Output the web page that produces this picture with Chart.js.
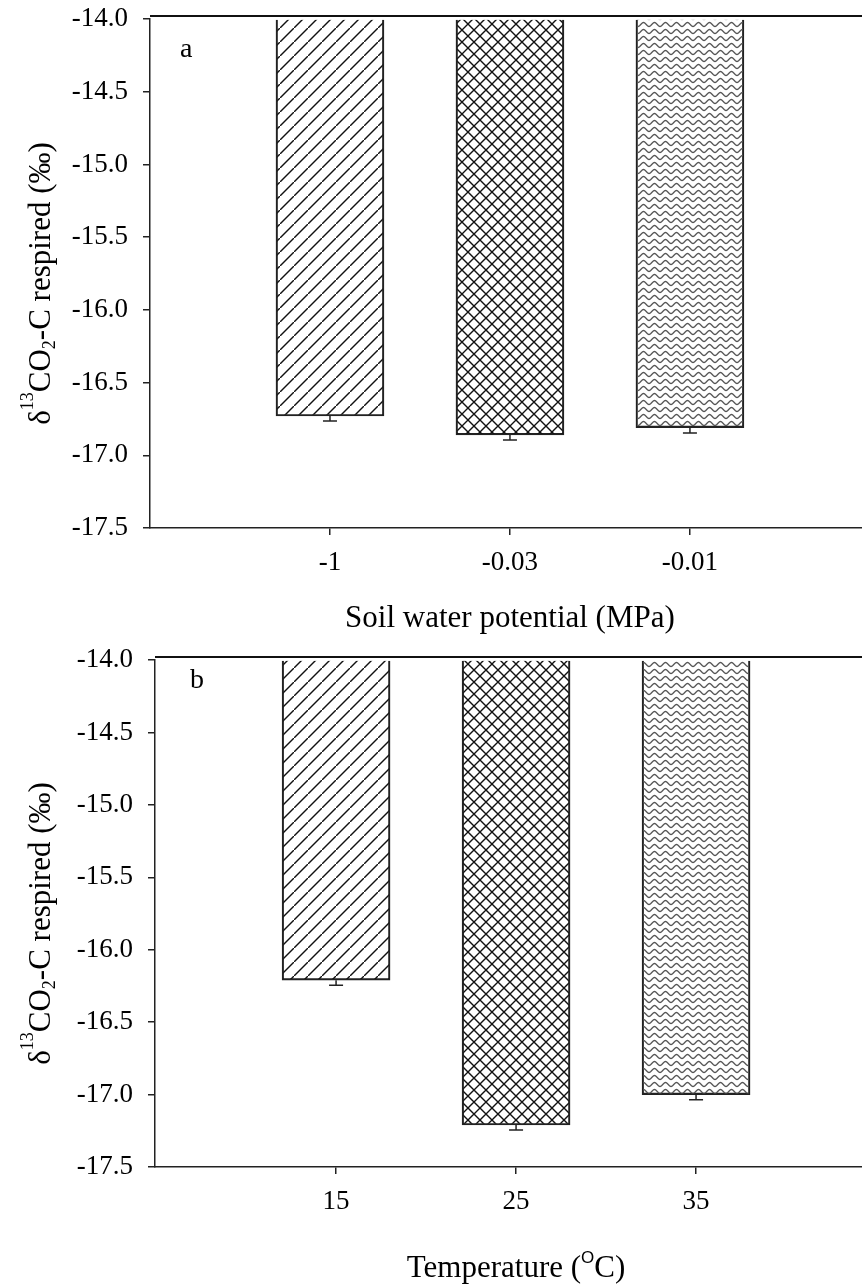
<!DOCTYPE html>
<html>
<head>
<meta charset="utf-8">
<script src="https://cdn.jsdelivr.net/npm/chart.js@4.4.1/dist/chart.umd.min.js"></script>
<style>
html, body { margin: 0; padding: 0; background: #fff; overflow: hidden; }
canvas { display: block; }
</style>
</head>
<body>
<canvas id="chartA" width="862" height="640"></canvas>
<canvas id="chartB" width="862" height="647"></canvas>
<script>
// panel a: soil water potential
const waterLabels = ['-1', '-0.03', '-0.01'];
const waterMeans = [-16.73, -16.86, -16.81];
const waterErrors = [0.035, 0.035, 0.037];

// panel b: temperature
const tempLabels = ['15', '25', '35'];
const tempMeans = [-16.21, -17.21, -17.0];
const tempErrors = [0.035, 0.035, 0.035];

// shared y axis
const yMin = -17.5;
const yMax = -14.0;
const yStep = 0.5;

const SERIF = "'Liberation Serif', 'Times New Roman', serif";
Chart.defaults.font.family = SERIF;
Chart.defaults.color = '#000';

// fill patterns for the three bars
function hatchPattern() {
    const c = document.createElement('canvas');
    c.width = 14; c.height = 14;
    const g = c.getContext('2d');
    g.strokeStyle = '#111';
    g.lineWidth = 1.4;
    g.beginPath();
    g.moveTo(-2, 16); g.lineTo(16, -2);
    g.stroke();
    return g.createPattern(c, 'repeat');
}

function crossPattern() {
    const c = document.createElement('canvas');
    c.width = 12; c.height = 12;
    const g = c.getContext('2d');
    g.strokeStyle = '#111';
    g.lineWidth = 1.4;
    g.beginPath();
    g.moveTo(-2, 14); g.lineTo(14, -2);
    g.moveTo(-2, -2); g.lineTo(14, 14);
    g.stroke();
    return g.createPattern(c, 'repeat');
}

function wavePattern() {
    const c = document.createElement('canvas');
    c.width = 11; c.height = 7;
    const g = c.getContext('2d');
    g.strokeStyle = '#555';
    g.lineWidth = 1.3;
    g.beginPath();
    for (let x = -1; x <= 12; x += 0.5) {
        const y = 3.5 + 2 * Math.cos((x / 11) * Math.PI * 2);
        if (x === -1) g.moveTo(x, y); else g.lineTo(x, y);
    }
    g.stroke();
    return g.createPattern(c, 'repeat');
}

const fills = [hatchPattern(), crossPattern(), wavePattern()];

// y title with super/subscripts, drawn rotated
function drawYTitle(ctx, x, cy) {
    const parts = [
        { t: '\u03B4', size: 31, dy: 0 },
        { t: '13', size: 18, dy: -17 },
        { t: 'CO', size: 31, dy: 0 },
        { t: '2', size: 18, dy: 5 },
        { t: '-C respired (\u2030)', size: 31, dy: 0 }
    ];
    ctx.save();
    let total = 0;
    parts.forEach(p => {
        ctx.font = p.size + 'px ' + SERIF;
        p.w = ctx.measureText(p.t).width;
        total += p.w;
    });
    ctx.translate(x, cy);
    ctx.rotate(-Math.PI / 2);
    ctx.fillStyle = '#000';
    ctx.textBaseline = 'alphabetic';
    ctx.textAlign = 'left';
    let pos = -total / 2;
    parts.forEach(p => {
        ctx.font = p.size + 'px ' + SERIF;
        ctx.fillText(p.t, pos, p.dy);
        pos += p.w;
    });
    ctx.restore();
}

function drawParts(ctx, parts, cx, baseline) {
    let total = 0;
    parts.forEach(p => {
        ctx.font = p.font;
        p.w = ctx.measureText(p.t).width;
        total += p.w;
    });
    ctx.save();
    ctx.fillStyle = '#000';
    ctx.textBaseline = 'alphabetic';
    ctx.textAlign = 'left';
    let pos = cx - total / 2;
    parts.forEach(p => {
        ctx.font = p.font;
        ctx.fillText(p.t, pos, baseline + p.dy);
        pos += p.w;
    });
    ctx.restore();
}

function makeChart(id, labels, means, errors, cfg) {
    const points = means.map((v, i) => ({ x: i + 1, y: v }));

    const extras = {
        id: 'extras',
        afterDatasetsDraw(chart) {
            // error bars, lower half only
            const ctx = chart.ctx;
            const xs = chart.scales.x, ys = chart.scales.y;
            ctx.save();
            ctx.strokeStyle = '#222';
            ctx.lineWidth = 1.5;
            means.forEach((v, i) => {
                const px = xs.getPixelForValue(i + 1);
                const y0 = ys.getPixelForValue(v);
                const y1 = ys.getPixelForValue(v - errors[i]);
                ctx.beginPath();
                ctx.moveTo(px, y0); ctx.lineTo(px, y1);
                ctx.moveTo(px - 7, y1); ctx.lineTo(px + 7, y1);
                ctx.stroke();
            });
            ctx.restore();
        },
        afterDraw(chart) {
            const ctx = chart.ctx;
            const a = chart.chartArea;
            // frame line along the top
            ctx.save();
            ctx.strokeStyle = '#111';
            ctx.lineWidth = 2;
            ctx.beginPath();
            ctx.moveTo(a.left, a.top - 3);
            ctx.lineTo(chart.width, a.top - 3);
            ctx.stroke();
            // panel letter
            ctx.fillStyle = '#000';
            ctx.font = '28px ' + SERIF;
            ctx.textBaseline = 'alphabetic';
            ctx.fillText(cfg.letter, a.left + cfg.letterDx, a.top + cfg.letterDy);
            ctx.restore();
            drawYTitle(ctx, 50, (a.top + a.bottom) / 2 + 10);
            drawParts(ctx, cfg.xTitle, chart.scales.x.getPixelForValue(2), cfg.xTitleY);
        }
    };

    return new Chart(document.getElementById(id), {
        type: 'bar',
        data: {
            datasets: [{
                data: points,
                base: yMax,
                backgroundColor: fills,
                borderColor: '#222',
                borderWidth: { top: 0, left: 1.5, right: 1.5, bottom: 1.5 },
                borderSkipped: false,
                barThickness: 108
            }]
        },
        options: {
            responsive: false,
            animation: false,
            devicePixelRatio: 1,
            layout: { padding: { top: cfg.top, left: 0, right: 0, bottom: 0 } },
            plugins: { legend: { display: false }, tooltip: { enabled: false } },
            scales: {
                x: {
                    type: 'linear',
                    offset: false,
                    min: cfg.xMin,
                    max: cfg.xMax,
                    afterBuildTicks: s => { s.ticks = labels.map((l, i) => ({ value: i + 1 })); },
                    afterFit: s => { s.height = cfg.xHeight; s.paddingLeft = 0; s.paddingRight = 0; },
                    ticks: {
                        callback: v => labels[Math.round(v) - 1],
                        font: { size: 27 },
                        color: '#000',
                        padding: 12,
                        maxRotation: 0,
                        autoSkip: false
                    },
                    grid: { offset: false, drawOnChartArea: false, tickLength: 7, color: '#222', lineWidth: 1.5 },
                    border: { color: '#222', width: 1.5 }
                },
                y: {
                    min: yMin,
                    max: yMax,
                    afterFit: s => { s.width = cfg.yWidth; s.paddingTop = 0; s.paddingBottom = 0; },
                    ticks: {
                        stepSize: yStep,
                        callback: v => v.toFixed(1),
                        font: { size: 27 },
                        color: '#000',
                        padding: 15
                    },
                    grid: { drawOnChartArea: false, tickLength: 7, color: '#222', lineWidth: 1.5 },
                    border: { color: '#222', width: 1.5 }
                }
            }
        },
        plugins: [extras]
    });
}

makeChart('chartA', waterLabels, waterMeans, waterErrors, {
    top: 19, xHeight: 112, yWidth: 150,
    xMin: 0, xMax: 3.956,
    letter: 'a', letterDx: 30, letterDy: 38,
    xTitle: [{ t: 'Soil water potential (MPa)', font: '31px ' + SERIF, dy: 0 }],
    xTitleY: 627
});

makeChart('chartB', tempLabels, tempMeans, tempErrors, {
    top: 20, xHeight: 120, yWidth: 155,
    xMin: -0.006, xMax: 3.922,
    letter: 'b', letterDx: 35, letterDy: 28,
    xTitle: [
        { t: 'Temperature (', font: '31px ' + SERIF, dy: 0 },
        { t: 'O', font: "17px 'Liberation Sans', Arial, sans-serif", dy: -14 },
        { t: 'C)', font: '31px ' + SERIF, dy: 0 }
    ],
    xTitleY: 637
});
</script>
</body>
</html>
